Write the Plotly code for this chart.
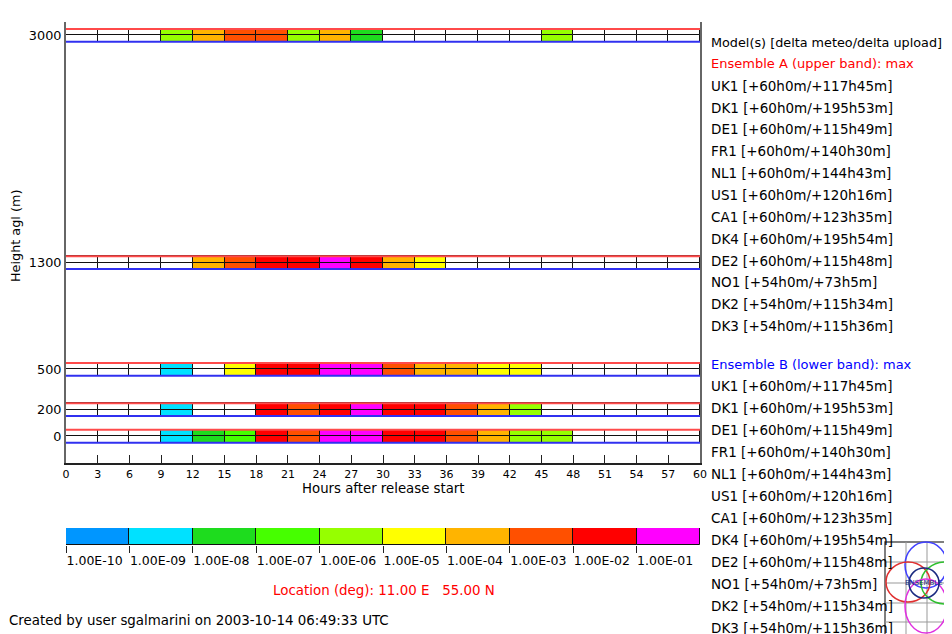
import plotly.graph_objects as go

# ---------------- data ----------------
hours = list(range(0, 60, 3))            # interval starts (3 h steps)
heights = [0, 200, 500, 1300, 3000]      # band heights (m agl)
y_ticks = [0, 200, 500, 1300, 3000]
x_ticks = list(range(0, 61, 3))

# colour class per 3-h interval (0 = no value, 1..10 = class of colourbar)
band_0 = [0, 0, 0, 2, 3, 4, 9, 8, 10, 10, 9, 9, 8, 7, 5, 5, 0, 0, 0, 0]
band_200 = [0, 0, 0, 2, 0, 0, 9, 8, 9, 10, 9, 9, 8, 7, 5, 0, 0, 0, 0, 0]
band_500 = [0, 0, 0, 2, 0, 6, 9, 9, 10, 10, 8, 7, 7, 6, 6, 0, 0, 0, 0, 0]
band_1300 = [0, 0, 0, 0, 7, 8, 9, 9, 10, 9, 7, 6, 0, 0, 0, 0, 0, 0, 0, 0]
band_3000 = [0, 0, 0, 5, 7, 8, 8, 5, 7, 3, 0, 0, 0, 0, 0, 5, 0, 0, 0, 0]
ens_a = [band_0, band_200, band_500, band_1300, band_3000]   # upper half
ens_b = [band_0, band_200, band_500, band_1300, band_3000]   # lower half

class_labels = ["1.00E-10", "1.00E-09", "1.00E-08", "1.00E-07", "1.00E-06",
                "1.00E-05", "1.00E-04", "1.00E-03", "1.00E-02", "1.00E-01"]
palette = ["#ffffff", "#0096ff", "#00e1ff", "#1edc1e", "#46ff00", "#96ff00",
           "#ffff00", "#ffb400", "#ff5000", "#ff0000", "#ff00ff"]

models = ["UK1 [+60h0m/+117h45m]", "DK1 [+60h0m/+195h53m]", "DE1 [+60h0m/+115h49m]",
          "FR1 [+60h0m/+140h30m]", "NL1 [+60h0m/+144h43m]", "US1 [+60h0m/+120h16m]",
          "CA1 [+60h0m/+123h35m]", "DK4 [+60h0m/+195h54m]", "DE2 [+60h0m/+115h48m]",
          "NO1 [+54h0m/+73h5m]", "DK2 [+54h0m/+115h34m]", "DK3 [+54h0m/+115h36m]"]

HALF = 48   # half band thickness in metres
STEP = 3

# ---------------- layout helpers ----------------
# page body has an 8px margin; figure is sized so it ends at the window edge
OFF = 8
W, H = 952 - OFF, 634 - OFF
ML, MR, MT, MB = 66 - OFF, 252, 22 - OFF, 70
PW, PH = W - ML - MR, H - MT - MB


def px(x):   # window pixel -> paper x
    return (x - OFF - ML) / PW


def py(y):   # window pixel -> paper y
    return (H - MB - (y - OFF)) / PH


main_dom = [py(463), 1.0]
cb_dom = [py(545), py(528)]

FONT = "DejaVu Sans"
fig = go.Figure()

centers = [h + STEP / 2 for h in hours]
for h, a, b in zip(heights, ens_a, ens_b):
    for half, base in ((a, h), (b, h - HALF)):
        fig.add_trace(go.Bar(
            x=centers, y=[HALF] * len(centers), base=[base] * len(centers),
            width=STEP, marker=dict(color=[palette[c] for c in half],
                                    line=dict(color="#111111", width=1)),
            hoverinfo="skip", showlegend=False, xaxis="x", yaxis="y"))

for h in heights:
    fig.add_trace(go.Scatter(x=[0, 60], y=[h + HALF] * 2, mode="lines",
                             line=dict(color="#ff4a4a", width=2),
                             hoverinfo="skip", showlegend=False))
    fig.add_trace(go.Scatter(x=[0, 60], y=[h - HALF] * 2, mode="lines",
                             line=dict(color="#3030f0", width=2),
                             hoverinfo="skip", showlegend=False))

# colour bar
cls_idx = list(range(len(class_labels)))
fig.add_trace(go.Bar(
    x=[i + 0.5 for i in cls_idx], y=[1] * len(cls_idx), width=1,
    marker=dict(color=palette[1:], line=dict(color="#111111", width=1)),
    hoverinfo="skip", showlegend=False, xaxis="x2", yaxis="y2"))

fig.update_layout(
    width=W, height=H,
    margin=dict(l=ML, r=MR, t=MT, b=MB, autoexpand=False),
    paper_bgcolor="white", plot_bgcolor="white", barmode="overlay",
    bargap=0, font=dict(family=FONT, color="black"),
    xaxis=dict(range=[0, 60], tickvals=x_ticks, ticks="inside", ticklen=8,
               tickcolor="#222", tickwidth=1, showline=True, linecolor="#222",
               linewidth=1.5, showgrid=False, zeroline=False, tickangle=0,
               tickfont=dict(size=11, family=FONT), anchor="y"),
    yaxis=dict(range=[-200, 3100], domain=main_dom, tickvals=y_ticks,
               ticks="", showline=True, mirror=True, linecolor="#666",
               linewidth=2, showgrid=False, zeroline=False,
               tickfont=dict(size=12.8, family=FONT), anchor="x"),
    xaxis2=dict(range=[0, 10], tickvals=cls_idx, ticktext=class_labels,
                ticks="outside", ticklen=7, tickcolor="#222", tickangle=0,
                ticklabelposition="outside right", ticklabelstandoff=4,
                showline=False, showgrid=False, zeroline=False, anchor="y2",
                tickfont=dict(size=12.5, family=FONT)),
    yaxis2=dict(range=[0, 1], domain=cb_dom, showticklabels=False,
                showgrid=False, zeroline=False, ticks="", anchor="x2"),
)

ann = []


def text(t, x, y, size, color="black", xanchor="center", angle=0):
    ann.append(dict(text=t, x=px(x), y=py(y), xref="paper", yref="paper",
                    xanchor=xanchor, yanchor="middle", showarrow=False,
                    textangle=angle, font=dict(size=size, color=color)))


text("Height agl (m)", 15, 236, 12.8, angle=-90)
text("Hours after release start", 383, 488, 13.3)
text("Location (deg): 11.00 E   55.00 N", 384, 590, 13.4, color="#ff0000")
text("Created by user sgalmarini on 2003-10-14 06:49:33 UTC", 7, 620, 13.4,
     xanchor="left")

legend_a = [("Model(s) [delta meteo/delta upload]", "black", 12.8),
            ("Ensemble A (upper band): max", "#ff0000", 13)] + \
           [(m, "black", 13.5) for m in models]
for i, (t, c, s) in enumerate(legend_a):
    text(t, 709, 42 + i * 21.85, s, color=c, xanchor="left")
legend_b = [("Ensemble B (lower band): max", "#0000ff", 13)] + \
           [(m, "black", 13.5) for m in models]
for i, (t, c, s) in enumerate(legend_b):
    text(t, 709, 364 + i * 22, s, color=c, xanchor="left")

# small ENSEMBLE logo (decoration)
shapes = []


def shp(kind, x0, y0, x1, y1, color, width=1.5, fill=None):
    d = dict(type=kind, xref="paper", yref="paper", x0=px(x0), x1=px(x1),
             y0=py(y1), y1=py(y0), line=dict(color=color, width=width),
             layer="above")
    if fill:
        d["fillcolor"] = fill
    shapes.append(d)


shp("rect", 885, 542, 960, 640, "#555", fill="white")
for gx in (906, 927, 948):
    shp("line", gx, 542, gx, 640, "#999", width=1)
for gy in (562, 583, 603, 622):
    shp("line", 885, gy, 960, gy, "#999", width=1)
for (cx, cy, rx, ry, col) in [(926, 565, 21, 23, "#4040ff"),
                              (908, 582, 22, 20, "#e03030"),
                              (946, 583, 25, 21, "#30c030"),
                              (926, 606, 21, 27, "#e030e0")]:
    shp("circle", cx - rx, cy - ry, cx + rx, cy + ry, col)
shp("circle", 909, 568, 939, 598, "#1a2a80")
text("ENSEMBLE", 924, 583, 7, color="#1a2a80")

fig.update_layout(annotations=ann, shapes=shapes)
fig.write_html("out.html")
